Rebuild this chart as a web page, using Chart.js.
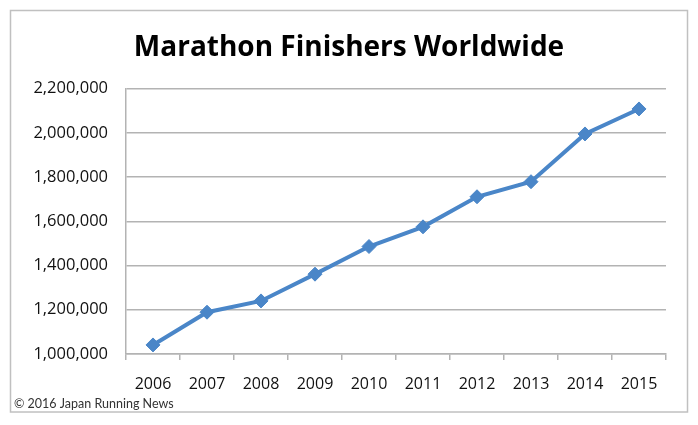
<!DOCTYPE html>
<html>
<head>
<meta charset="utf-8">
<script src="https://cdn.jsdelivr.net/npm/chart.js@4"></script>
<style>
  html, body { margin: 0; padding: 0; background: #ffffff; }
  #wrap { width: 698px; height: 425px; position: relative; }
</style>
</head>
<body>
<div id="wrap"><canvas id="c" width="698" height="425"></canvas></div>
<script>
const titleText = 'Marathon Finishers Worldwide';
const footerText = '© 2016 Japan Running News';
const years = ['2006', '2007', '2008', '2009', '2010', '2011', '2012', '2013', '2014', '2015'];
const finishers = [1041000, 1189000, 1240000, 1361000, 1486000, 1575000, 1711000, 1779000, 1995000, 2108000];
const yTickValues = [1000000, 1200000, 1400000, 1600000, 1800000, 2000000, 2200000];

const lineColor = '#4a86c8';
const gridColor = '#b3b3b3';

const framePlugin = {
  id: 'frameAndFooter',
  afterDraw(chart) {
    const ctx = chart.ctx;
    ctx.save();
    ctx.strokeStyle = '#c0c0c0';
    ctx.lineWidth = 1.5;
    ctx.strokeRect(10.5, 10.5, 677, 401.5);
    ctx.fillStyle = '#333333';
    ctx.font = '12.5px Lato, "Open Sans", sans-serif';
    ctx.textBaseline = 'alphabetic';
    ctx.textAlign = 'left';
    ctx.fillText(footerText, 14, 408);
    ctx.restore();
  }
};

new Chart(document.getElementById('c'), {
  type: 'line',
  data: {
    labels: years,
    datasets: [{
      data: finishers,
      borderColor: lineColor,
      backgroundColor: lineColor,
      borderWidth: 4,
      pointStyle: 'rectRot',
      pointRadius: 7,
      pointHoverRadius: 7,
      pointBorderWidth: 1,
      pointBackgroundColor: lineColor,
      pointBorderColor: lineColor,
      tension: 0,
      fill: false
    }]
  },
  options: {
    responsive: false,
    animation: false,
    devicePixelRatio: 1,
    layout: { padding: { left: 32, right: 32, top: 0, bottom: 0 } },
    plugins: {
      legend: { display: false },
      tooltip: { enabled: false },
      title: {
        display: true,
        text: titleText,
        color: '#000000',
        font: { family: '"Open Sans", sans-serif', size: 28, weight: 'bold', lineHeight: 1.2 },
        padding: { top: 31, bottom: 24 }
      }
    },
    scales: {
      x: {
        type: 'category',
        offset: true,
        grid: {
          display: true,
          offset: true,
          drawOnChartArea: false,
          drawTicks: true,
          tickLength: 6,
          color: gridColor,
          lineWidth: 1.5
        },
        border: { display: true, color: gridColor, width: 1.5 },
        ticks: {
          color: '#111111',
          font: { family: '"Open Sans", sans-serif', size: 16 },
          padding: 15,
          maxRotation: 0,
          autoSkip: false
        },
        afterFit(scale) { scale.height = 71; }
      },
      y: {
        min: 1000000,
        max: 2200000,
        afterBuildTicks(scale) {
          scale.ticks = yTickValues.map(v => ({ value: v }));
        },
        grid: {
          color: gridColor,
          lineWidth: 1.5,
          drawTicks: false
        },
        border: { display: true, color: gridColor, width: 1.5 },
        ticks: {
          color: '#111111',
          font: { family: '"Open Sans", sans-serif', size: 16.5 },
          padding: 18,
          callback: (v) => Number(v).toLocaleString('en-US')
        },
        afterFit(scale) { scale.width = 94; }
      }
    }
  },
  plugins: [framePlugin]
});
</script>
</body>
</html>
